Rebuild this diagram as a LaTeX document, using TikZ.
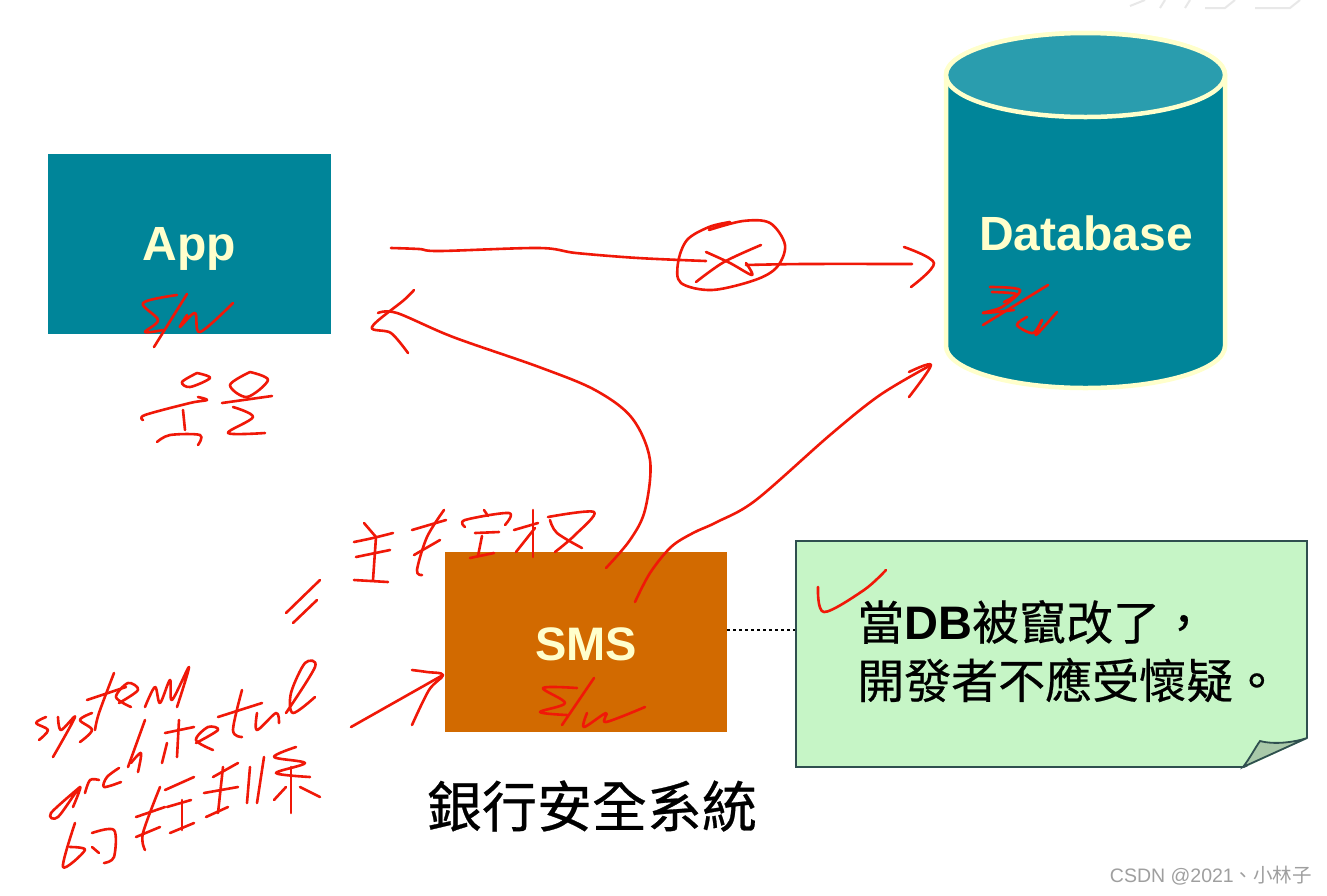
\documentclass[tikz,border=0pt]{standalone}
\usepackage{fontspec}
\setmainfont{Liberation Sans}
\newfontfamily\cjk[FakeBold=0.5]{Noto Sans CJK TC}
\newfontfamily\cjkmark{Noto Sans CJK TC}
\usetikzlibrary{calc}
\definecolor{tealbox}{HTML}{008599}
\definecolor{tealtop}{HTML}{2A9DAE}
\definecolor{creamline}{HTML}{FFFFCC}
\definecolor{orangebox}{HTML}{D26A00}
\definecolor{notefill}{HTML}{C6F5C6}
\definecolor{noteline}{HTML}{2F4F4F}
\definecolor{foldfill}{HTML}{A9C9A9}
\definecolor{inkred}{HTML}{F01808}
\tikzset{
  sizedfont/.style={font=\fontsize{#1}{#1}\selectfont},
  appbox/.style={rectangle, fill=#1, draw=none, minimum width=283pt, minimum height=180pt, inner sep=0pt},
  boxlabel/.style={text=creamline, font=\fontsize{48}{48}\selectfont\bfseries, inner sep=0pt},
  inkline/.style={draw=inkred, line width=2.6pt, line cap=round, line join=round},
}
\newcommand{\ink}[1]{\draw[inkline] plot[smooth, tension=.55] coordinates {#1};}
\begin{document}
\begin{tikzpicture}[x=1pt, y=-1pt]
  \useasboundingbox[fill=white] (0, 0) rectangle (1327, 895);
  \draw[line width=2pt, gray!18] (1130, 6) -- (1145, 0) (1160, 8) -- (1165, 0) (1185, 8) -- (1190, 0) (1205, 8) -- (1225, 8) -- (1235, 0) (1255, 8) -- (1290, 8) -- (1300, 0);

  \node[appbox=tealbox] (app) at (189.5, 244) {};
  \node[boxlabel] (applabel) at (189.5, 249) {App};

  \path[draw=creamline, line width=4.5pt, fill=tealbox] (946, 75) -- (946, 346) arc[start angle=180, end angle=0, x radius=139.5, y radius=42] -- (1225, 75) arc[start angle=0, end angle=-180, x radius=139.5, y radius=42] -- cycle;
  \path[draw=creamline, line width=4.5pt, fill=tealtop] (1085.5, 75) ellipse[x radius=139.5, y radius=42];
  \node[boxlabel] (dblabel) at (1086, 233) {Database};

  \node[appbox=orangebox, minimum width=282pt] (sms) at (586, 642) {};
  \node[boxlabel, font=\fontsize{47}{47}\selectfont\bfseries] (smslabel) at (586, 644) {SMS};
  \node[inner sep=0pt, sizedfont=55] (title) at (592, 806) {\cjk 銀行安全系統};

  \node[rectangle, fill=notefill, draw=noteline, line width=1.8pt, minimum width=511pt, minimum height=226pt, inner sep=0pt] (note) at (1051.5, 654) {};
  \fill[white] (1243, 768.5) -- (1309, 768.5) -- (1309, 738) -- cycle;
  \draw[noteline, line width=1.8pt, fill=foldfill] (1243, 767) .. controls (1250, 758) and (1255, 748) .. (1260, 741) .. controls (1275, 745) and (1295, 742) .. (1307, 738) -- cycle;
  \node[inner sep=0pt, anchor=west, sizedfont=47] (noteone) at (857, 622) {\cjk 當{\normalfont\bfseries DB}被竄改了，};
  \node[inner sep=0pt, anchor=west, sizedfont=47] (notetwo) at (857, 680) {\cjk 開發者不應受懷疑。};
  \coordinate (link) at (760, 630);
  \draw[dashed, line width=1.2pt] (sms.east |- link) -- (note.west |- link);

  \node[inner sep=0pt, anchor=east, text=gray!75, sizedfont=19.5] (mark) at (1312, 876) {CSDN @2021{\cjkmark 、小林子}};

  \coordinate (dbtip) at (934, 263);
  \coordinate (apptip) at (378, 313);
  \coordinate (dbtiptwo) at (931, 365);
  \coordinate (smstip) at (443, 675);

  \ink{(391,248)(419,249)(440,251)(539,248)(576,253)(638,258)(706,261)}
  \ink{(746,265)(804,264)(912,264)}
  \ink{(904,247)(dbtip)(911,287)}
  \ink{(709,230)(743,221)(770,223)(785,245)(777,267)(755,280)(712,290)(681,283)(678,263)(687,240)(709,227)(730,222)}
  \ink{(696,282)(724,262)(761,245)}
  \ink{(706,252)(730,263)(752,275)(746,263)}

  \ink{(606,568)(630,540)(645,510)(650,460)(632,418)(595,390)(539,367)(453,337)(397,313)(apptip)}
  \ink{(414,290)(404,300)(372,327)(391,333)(408,353)}

  \ink{(635,602)(650,573)(671,547)(693,533)(717,522)(756,500)(830,435)(880,395)(dbtiptwo)}
  \ink{(909,372)(dbtiptwo)(909,397)}

  \ink{(351,727)(smstip)}
  \ink{(412,670)(427,672)(smstip)(429,690)(412,725)}

  \ink{(354,542)(373,538)(393,533)}
  \ink{(364,523)(376,537)}
  \ink{(356,557)(390,550)}
  \ink{(376,537)(373,580)}
  \ink{(354,580)(388,582)}
  \ink{(412,530)(446,520)}
  \ink{(444,510)(427,537)(417,570)(422,575)}
  \ink{(414,555)(440,540)}
  \ink{(484,510)(488,516)}
  \ink{(465,527)(465,520)(509,513)(505,525)}
  \ink{(475,533)(499,532)}
  \ink{(470,558)(494,553)}
  \ink{(482,536)(478,556)}
  \ink{(514,530)(538,523)}
  \ink{(533,510)(533,557)}
  \ink{(535,528)(516,552)}
  \ink{(548,517)(594,512)(575,535)(555,552)}
  \ink{(550,520)(557,533)(582,548)}
  \ink{(320,580)(286,613)}
  \ink{(317,600)(293,623)}

  \ink{(46,717)(36,723)(48,730)(39,740)}
  \ink{(58,717)(61,730)(75,717)(53,757)}
  \ink{(92,713)(80,720)(92,730)(80,742)}
  \ink{(114,673)(99,713)(95,730)}
  \ink{(87,700)(126,687)}
  \ink{(119,703)(138,690)(128,683)(116,697)(131,707)}
  \ink{(145,707)(155,687)(160,703)(170,680)(172,700)(189,667)(177,707)}

  \ink{(80,787)(51,813)(58,817)(80,787)(73,807)}
  \ink{(85,793)(90,780)(99,780)}
  \ink{(119,768)(107,777)(104,787)(121,782)}
  \ink{(145,720)(128,767)}
  \ink{(131,763)(141,753)(138,772)}
  \ink{(167,743)(162,763)}
  \ink{(179,720)(177,757)}
  \ink{(165,733)(194,727)}
  \ink{(196,743)(218,730)(208,727)(196,740)(213,750)}
  \ink{(242,690)(233,730)(242,737)}
  \ink{(218,717)(262,703)}
  \ink{(257,713)(257,730)(276,713)(279,723)}
  \ink{(286,713)(315,667)(305,663)(291,693)(293,713)(315,697)}

  \ink{(75,823)(63,867)(85,850)(70,847)}
  \ink{(92,833)(114,830)(114,857)(104,863)}
  \ink{(92,847)(99,853)}
  \ink{(136,817)(165,807)}
  \ink{(160,787)(143,833)(145,850)}
  \ink{(136,837)(160,827)}
  \ink{(165,790)(194,777)}
  \ink{(167,807)(191,800)}
  \ink{(170,833)(194,823)}
  \ink{(182,800)(182,830)}
  \ink{(213,777)(238,763)}
  \ink{(204,793)(238,787)}
  \ink{(223,767)(218,813)}
  \ink{(206,817)(228,807)}
  \ink{(250,767)(247,803)}
  \ink{(264,757)(257,803)}
  \ink{(296,747)(274,757)(305,763)(276,773)(310,777)}
  \ink{(291,767)(291,813)}
  \ink{(274,800)(286,787)}
  \ink{(300,787)(320,797)}

  \ink{(577,688)(543,688)(565,703)(540,712)(567,715)}
  \ink{(594,678)(562,725)}
  \ink{(587,713)(584,727)(606,713)(606,722)(645,707)}

  \ink{(177,295)(143,303)(158,320)(145,332)(163,330)}
  \ink{(187,294)(154,347)}
  \ink{(187,315)(180,327)(195,313)(200,332)(233,303)}
  \ink{(197,373)(182,382)(190,387)(210,378)(197,373)}
  \ink{(198,397)(207,400)(190,403)(145,415)(143,420)}
  \ink{(183,410)(185,430)}
  \ink{(157,442)(170,435)(200,435)(198,445)}
  \ink{(250,372)(230,385)(247,397)(268,380)(250,372)}
  \ink{(222,403)(272,396)}
  \ink{(233,407)(253,417)(228,433)(265,433)}

  \ink{(990,287)(1020,290)(1002,307)(983,313)(1014,310)}
  \ink{(992,292)(1016,294)(1004,302)}
  \ink{(1048,285)(983,325)}
  \ink{(1027,317)(1017,325)(1033,333)(1042,320)(1036,335)(1057,312)}

  \ink{(818,587)(824,612)(864,590)(886,570)}
\end{tikzpicture}
\end{document}
